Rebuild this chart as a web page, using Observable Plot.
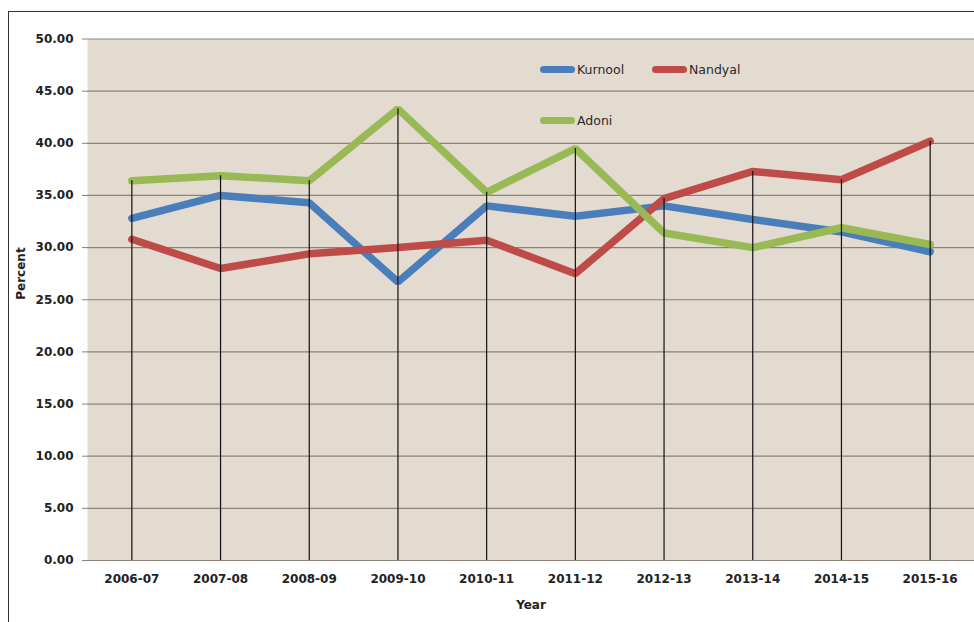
<!DOCTYPE html>
<html>
<head>
<meta charset="utf-8">
<script src="https://cdn.jsdelivr.net/npm/d3@7"></script>
<script src="https://cdn.jsdelivr.net/npm/@observablehq/plot@0.6"></script>
<style>
  html, body { margin: 0; padding: 0; background: #fff; }
  #wrap { position: relative; width: 974px; height: 622px; overflow: hidden; font-family: "DejaVu Sans", sans-serif; }
  #frame { position: absolute; left: 8px; top: 11px; width: 1000px; height: 700px; border-left: 1.3px solid #333; border-top: 1.3px solid #333; }
  #chart { position: absolute; left: 0; top: 0; }
  .leg { position: absolute; font-size: 12.5px; color: #2a2a2a; display: flex; align-items: center; }
  .leg span.sw { display: inline-block; width: 35px; height: 7px; border-radius: 3.5px; margin-right: 2px; }
</style>
</head>
<body>
<div id="wrap">
  <div id="frame"></div>
  <div id="chart"></div>
  <div id="legend"></div>
</div>
<script>
const years = ["2006-07","2007-08","2008-09","2009-10","2010-11","2011-12","2012-13","2013-14","2014-15","2015-16"];
const kurnool = [32.8, 35.0, 34.3, 26.7, 34.0, 33.0, 34.0, 32.7, 31.5, 29.6];
const nandyal = [30.8, 28.0, 29.4, 30.0, 30.7, 27.5, 34.7, 37.3, 36.5, 40.2];
const adoni   = [36.4, 36.9, 36.4, 43.3, 35.3, 39.5, 31.4, 30.0, 31.9, 30.3];
const seriesNames = ["Kurnool", "Nandyal", "Adoni"];
const seriesColors = ["#4a7ebb", "#be4b48", "#98b954"];
const yTicks = [0, 5, 10, 15, 20, 25, 30, 35, 40, 45, 50];

const seriesValues = [kurnool, nandyal, adoni];
const data = [];
seriesNames.forEach((s, i) => years.forEach((y, j) => data.push({series: s, year: y, value: seriesValues[i][j]})));
const drops = years.map((y, j) => ({year: y, top: Math.max(kurnool[j], nandyal[j], adoni[j])}));

const chart = Plot.plot({
  width: 974,
  height: 622,
  marginLeft: 87,
  marginRight: 0,
  marginTop: 38.5,
  marginBottom: 62,
  style: {fontFamily: "'DejaVu Sans', sans-serif", fontSize: "12px", fontWeight: "bold", color: "#222", background: "transparent"},
  x: {type: "band", domain: years, padding: 0, round: false, label: null},
  y: {domain: [0, 50], label: null},
  color: {domain: seriesNames, range: seriesColors},
  marks: [
    Plot.frame({fill: "#e3dbd0", stroke: null}),
    Plot.ruleY(yTicks, {stroke: "#8a8178", strokeWidth: 1.2, strokeOpacity: 1}),
    Plot.line(data, {x: "year", y: "value", z: "series", stroke: "series", strokeWidth: 7.5, strokeLinecap: "round", strokeLinejoin: "miter"}),
    Plot.ruleX(drops, {x: "year", y1: 0, y2: "top", stroke: "#111", strokeWidth: 1.2}),
    Plot.axisY({ticks: yTicks, tickFormat: d => d.toFixed(2), tickSize: 5, tickPadding: 9, stroke: "#8a8178", label: null}),
    Plot.axisX({tickSize: 0, tickPadding: 14, label: null}),
    Plot.text(["Percent"], {frameAnchor: "left", dx: -66, rotate: -90, fontWeight: "bold", fontSize: 12, fill: "#222"}),
    Plot.text(["Year"], {frameAnchor: "bottom", dy: 48, dx: 0, fontWeight: "bold", fontSize: 12, fill: "#222"})
  ]
});
document.getElementById("chart").appendChild(chart);

// Legend (inside plot area, upper middle)
const legendPos = [{left: 540, top: 62}, {left: 652, top: 62}, {left: 540, top: 113}];
const legend = document.getElementById("legend");
seriesNames.forEach((s, i) => {
  const d = document.createElement("div");
  d.className = "leg";
  d.style.left = legendPos[i].left + "px";
  d.style.top = legendPos[i].top + "px";
  d.innerHTML = `<span class="sw" style="background:${seriesColors[i]}"></span>${s}`;
  legend.appendChild(d);
});
</script>
</body>
</html>
